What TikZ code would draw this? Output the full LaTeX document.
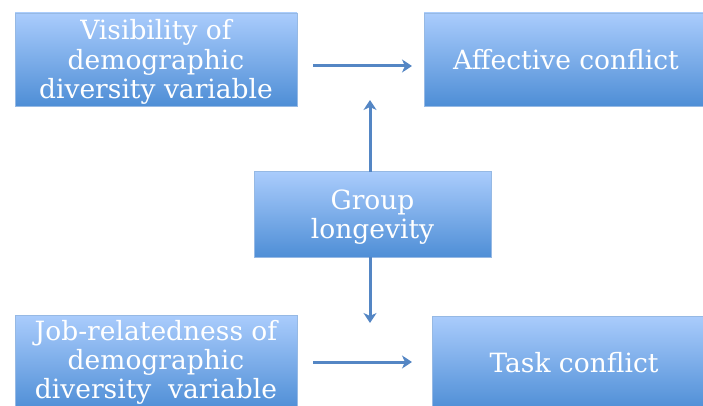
\documentclass[tikz,border=0pt]{standalone}
\usepackage{fontspec}
\setmainfont{DejaVu Serif}
\usetikzlibrary{arrows.meta,calc}
\definecolor{boxtop}{RGB}{170,204,252}
\definecolor{boxbot}{RGB}{78,142,214}
\definecolor{boxline}{RGB}{150,185,228}
\definecolor{arrcol}{RGB}{84,134,196}
\tikzset{
  box/.style={rectangle, draw=boxline, line width=0.8pt, top color=boxtop, bottom color=boxbot,
    text=white, align=center, inner sep=0pt, font=\fontsize{26.5}{30}\selectfont},
  boxtext/.style={align=center, text=white, inner sep=0pt, font=\fontsize{26.5}{29.5}\selectfont},
  arr/.style={draw=arrcol, line width=3pt, -{Stealth[length=10pt,width=13pt,inset=3pt]}}
}
\begin{document}
\begin{tikzpicture}[x=1pt,y=-1pt]
\useasboundingbox (0,0) rectangle (703,406);
\clip (0,0) rectangle (703,406);
\node[box, minimum width=282pt, minimum height=93pt] (vis) at (156,59.5) {};
\node[boxtext] (vistxt) at (156,62) {Visibility of\\demographic\\diversity variable};
\node[box, minimum width=284pt, minimum height=93pt] (aff) at (566,59.5) {Affective conflict};
\node[box, minimum width=237pt, minimum height=86pt] (grp) at (372.5,214.5) {};
\node[boxtext] (grptxt) at (372.5,217) {Group\\longevity};
\node[box, minimum width=282pt, minimum height=95pt] (job) at (156,362.5) {};
\node[boxtext, font=\fontsize{26.5}{29}\selectfont] (jobtxt) at (156,362) {Job-relatedness of\\demographic\\diversity\ \ variable};
\node[box, minimum width=284pt, minimum height=94pt] (task) at (574,363) {Task conflict};
\coordinate (a1) at (313,66);
\coordinate (a2) at (412,66);
\coordinate (b1) at (313,362);
\coordinate (b2) at (412,362);
\coordinate (u1) at (370,172);
\coordinate (u2) at (370,100);
\coordinate (d1) at (370,257);
\coordinate (d2) at (370,323);
\draw[arr] (a1) -- (a2);
\draw[arr] (b1) -- (b2);
\draw[arr] (u1) -- (u2);
\draw[arr] (d1) -- (d2);
\end{tikzpicture}
\end{document}
